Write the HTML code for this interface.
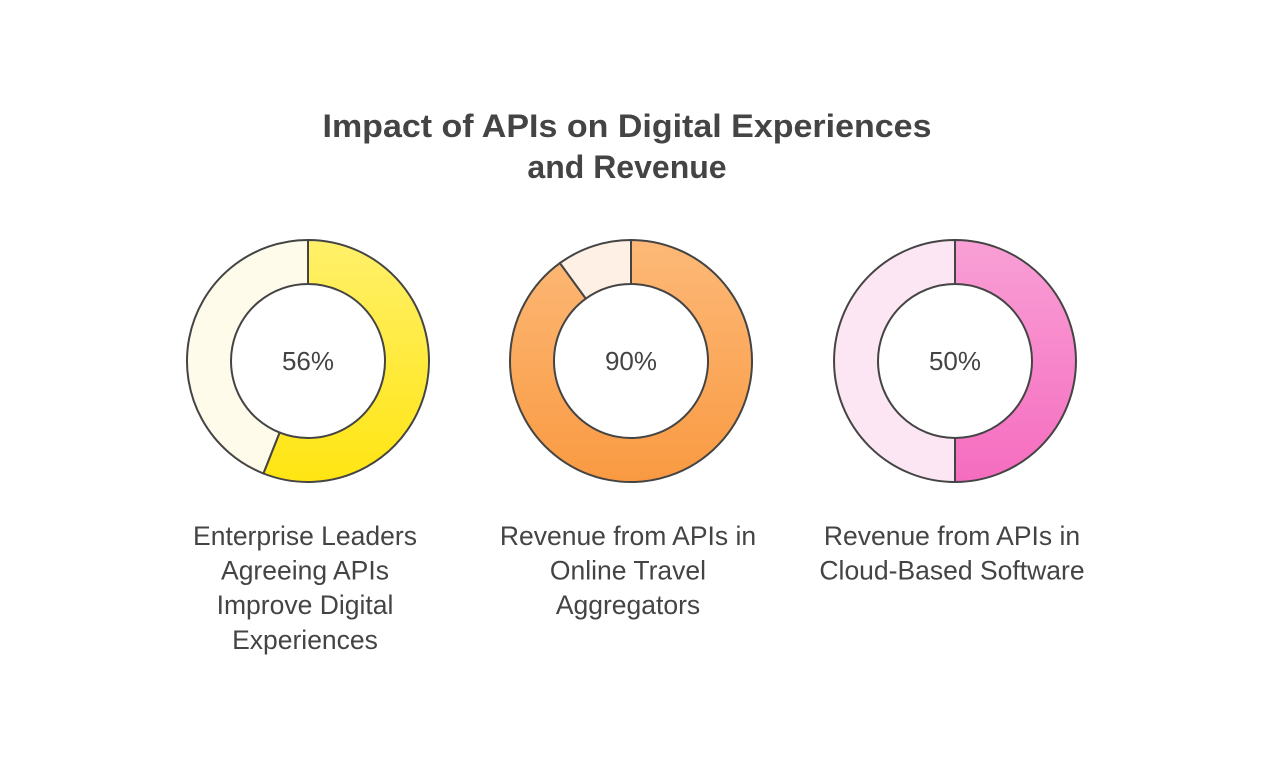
<!DOCTYPE html>
<html><head><meta charset="utf-8"><style>
body{margin:0;background:#fff;width:1280px;height:760px;overflow:hidden;font-family:"Liberation Sans",sans-serif}
</style></head><body>
<svg width="1280" height="760">
<defs>
<linearGradient id="g0" x1="0" y1="0" x2="0" y2="1"><stop offset="0" stop-color="#fff06a"/><stop offset="1" stop-color="#ffe512"/></linearGradient>
<linearGradient id="g1" x1="0" y1="0" x2="0" y2="1"><stop offset="0" stop-color="#fdb978"/><stop offset="1" stop-color="#f99a42"/></linearGradient>
<linearGradient id="g2" x1="0" y1="0" x2="0" y2="1"><stop offset="0" stop-color="#f9a0d6"/><stop offset="1" stop-color="#f56cbf"/></linearGradient>
</defs>
<text x="627" y="137" text-anchor="middle" font-size="32" font-weight="bold" fill="#444" textLength="609" lengthAdjust="spacingAndGlyphs">Impact of APIs on Digital Experiences</text>
<text x="627" y="178" text-anchor="middle" font-size="32" font-weight="bold" fill="#444">and Revenue</text>
<g id="donuts"></g>
</svg>
<script>
const categories=["Enterprise Leaders|Agreeing APIs|Improve Digital|Experiences","Revenue from APIs in|Online Travel|Aggregators","Revenue from APIs in|Cloud-Based Software"];
const values=[56,90,50];
const fills=["url(#g0)","url(#g1)","url(#g2)"];
const bgs=["#fffbea","#fef0e4","#fde6f3"];
const NS="http://www.w3.org/2000/svg";
const g=document.getElementById("donuts");
const cxs=[308,631,955],cy=361,R=121,r=77;
function pt(c,rad,a){return [c+rad*Math.sin(a),cy-rad*Math.cos(a)];}
function arc(c,a0,a1){
 const large=(a1-a0)>Math.PI?1:0;
 const [x0,y0]=pt(c,R,a0),[x1,y1]=pt(c,R,a1),[x2,y2]=pt(c,r,a1),[x3,y3]=pt(c,r,a0);
 return `M${x0},${y0}A${R},${R} 0 ${large} 1 ${x1},${y1}L${x2},${y2}A${r},${r} 0 ${large} 0 ${x3},${y3}Z`;
}
values.forEach((v,i)=>{
 const c=cxs[i];const a=v/100*2*Math.PI;
 const bg=document.createElementNS(NS,"path");
 bg.setAttribute("d",arc(c,a,2*Math.PI-1e-6));
 bg.setAttribute("fill",bgs[i]);bg.setAttribute("stroke","#444");bg.setAttribute("stroke-width","2");
 
 
 g.appendChild(bg);
 const p=document.createElementNS(NS,"path");
 p.setAttribute("d",arc(c,0,a));
 p.setAttribute("fill",fills[i]);p.setAttribute("stroke","#444");p.setAttribute("stroke-width","2");
 
 
 g.appendChild(p);
 const t=document.createElementNS(NS,"text");
 t.setAttribute("x",c);t.setAttribute("y",cy+9);t.setAttribute("text-anchor","middle");
 t.setAttribute("font-size","26");t.setAttribute("fill","#444");t.textContent=v+"%";
 
 
 g.appendChild(t);
 categories[i].split("|").forEach((ln,j)=>{
  const l=document.createElementNS(NS,"text");
  l.setAttribute("x",c-3);l.setAttribute("y",545+j*34.6);l.setAttribute("text-anchor","middle");
  l.setAttribute("font-size","26.5");l.setAttribute("fill","#444");l.textContent=ln;
  
  
  g.appendChild(l);
 });
});
</script>
</body></html>
